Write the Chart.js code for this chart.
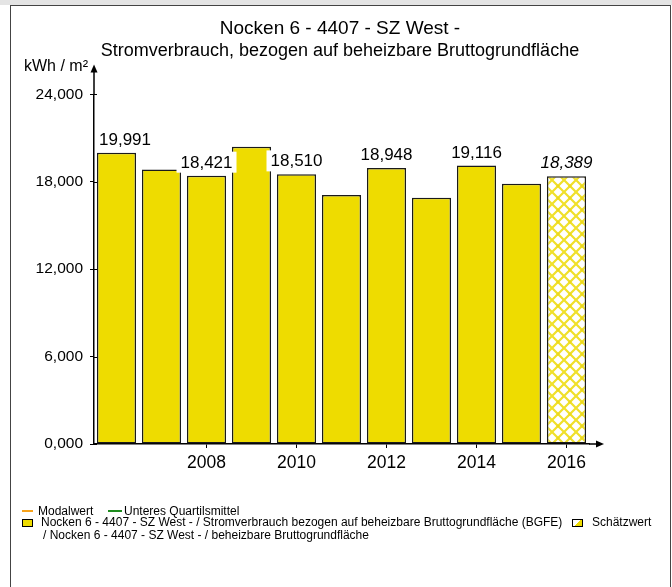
<!DOCTYPE html>
<html>
<head>
<meta charset="utf-8">
<script src="https://cdn.jsdelivr.net/npm/chart.js@4.4.1/dist/chart.umd.min.js"></script>
<style>
  body { margin: 0; background: #fff; font-family: "Liberation Sans", Arial, sans-serif; }
  #wrap { position: relative; width: 672px; height: 587px; overflow: hidden; }
  #topband { position: absolute; left: 0; top: 0; width: 672px; height: 5px; background: #e4e4e4; }
  #frame { position: absolute; left: 10px; top: 5px; width: 659px; height: 600px; border: 1px solid #444; }
  #c { position: absolute; left: 0; top: 0; }
  .lg { position: absolute; white-space: nowrap; font-size: 12px; line-height: 12px; color: #000; }
  .line { position: absolute; height: 2px; }
  .box { position: absolute; width: 9px; height: 6px; border: 1.5px solid #000; }
</style>
</head>
<body>
<div id="wrap">
  <div id="topband"></div>
  <div id="frame"></div>
  <canvas id="c" width="672" height="587"></canvas>

  <div class="line" style="left:22px;top:510px;width:11px;background:#f7a21b"></div>
  <div class="lg" style="left:38px;top:505px">Modalwert</div>
  <div class="line" style="left:108px;top:510px;width:14px;background:#1e8c1e"></div>
  <div class="lg" style="left:124px;top:505px">Unteres Quartilsmittel</div>

  <div class="box" style="left:22px;top:519px;background:#eedc00"></div>
  <div class="lg" style="left:41px;top:516px">Nocken 6 - 4407 - SZ West - / Stromverbrauch bezogen auf beheizbare Bruttogrundfläche (BGFE)</div>
  <div class="box" style="left:572px;top:519px;background:linear-gradient(135deg,#fff 50%,#eedc00 50%)"></div>
  <div class="lg" style="left:592px;top:516px">Schätzwert</div>
  <div class="lg" style="left:43px;top:529px">/ Nocken 6 - 4407 - SZ West - / beheizbare Bruttogrundfläche</div>
</div>
<script>
const years = ['2006', '2007', '2008', '2009', '2010', '2011', '2012', '2013', '2014', '2015', '2016'];
const values = [19.991, 18.85, 18.421, 20.40, 18.510, 17.10, 18.948, 16.90, 19.116, 17.87, 18.389];
const shownYearLabels = ['2008', '2010', '2012', '2014', '2016'];
const valueLabelYears = ['2006', '2008', '2010', '2012', '2014', '2016'];
const estimateYears = ['2016'];
const yMax = 24;
const yStep = 2;
const yLabelStep = 6;

const FONT = '"Liberation Sans", Arial, sans-serif';
const fmt = v => v.toFixed(3).replace('.', ',');

// hatched fill for the estimated year
function hatch() {
  const s = 12;
  const c = document.createElement('canvas');
  c.width = s; c.height = s;
  const g = c.getContext('2d');
  g.fillStyle = '#fff';
  g.fillRect(0, 0, s, s);
  g.strokeStyle = '#f0e02a';
  g.lineWidth = 2.2;
  g.beginPath();
  g.moveTo(-1, -1); g.lineTo(s + 1, s + 1);
  g.moveTo(s + 1, -1); g.lineTo(-1, s + 1);
  g.stroke();
  g.fillStyle = '#ecd81c';
  g.beginPath(); g.arc(s / 2, s / 2, 1.6, 0, Math.PI * 2); g.fill();
  return g.createPattern(c, 'repeat');
}
const hatchFill = hatch();

const decor = {
  id: 'decor',
  afterDatasetsDraw(chart) {
    const ctx = chart.ctx;
    const area = chart.chartArea;
    const meta = chart.getDatasetMeta(0);
    ctx.save();
    years.forEach((y, i) => {
      if (!valueLabelYears.includes(y)) return;
      const bar = meta.data[i];
      const italic = estimateYears.includes(y);
      ctx.font = (italic ? 'italic ' : '') + '17px ' + FONT;
      const text = fmt(values[i]);
      const w = ctx.measureText(text).width;
      let bx = bar.x - w / 2 - 4;
      if (bx < area.left + 1) bx = area.left + 1;
      const base = bar.y - 8;
      ctx.fillStyle = '#fff';
      ctx.fillRect(bx, base - 16, w + 8, 21);
      ctx.fillStyle = '#000';
      ctx.textAlign = 'left';
      ctx.textBaseline = 'alphabetic';
      ctx.fillText(text, bx + 4, base);
    });
    ctx.restore();
  },
  afterDraw(chart) {
    const ctx = chart.ctx;
    const area = chart.chartArea;
    const ys = chart.scales.y;
    const x0 = area.left, y0 = area.bottom;
    ctx.save();
    ctx.strokeStyle = '#000';
    ctx.fillStyle = '#000';
    ctx.lineWidth = 1.5;
    // axis extensions with arrows
    ctx.beginPath();
    ctx.moveTo(x0, area.top); ctx.lineTo(x0, area.top - 25);
    ctx.moveTo(area.right, y0); ctx.lineTo(area.right + 12, y0);
    ctx.stroke();
    ctx.beginPath();
    ctx.moveTo(x0, area.top - 30); ctx.lineTo(x0 - 3.5, area.top - 22); ctx.lineTo(x0 + 3.5, area.top - 22);
    ctx.closePath(); ctx.fill();
    ctx.beginPath();
    ctx.moveTo(area.right + 15, y0); ctx.lineTo(area.right + 7, y0 - 3.5); ctx.lineTo(area.right + 7, y0 + 3.5);
    ctx.closePath(); ctx.fill();
    // tick marks cross the y axis
    ctx.lineWidth = 1;
    ys.ticks.forEach(t => {
      const py = Math.round(ys.getPixelForValue(t.value)) + 0.5;
      ctx.beginPath(); ctx.moveTo(x0, py); ctx.lineTo(x0 + 3, py); ctx.stroke();
    });
    // unit label
    ctx.font = '16px ' + FONT;
    ctx.textAlign = 'right';
    ctx.textBaseline = 'alphabetic';
    ctx.fillText('kWh / m²', x0 - 6, area.top - 23);
    ctx.restore();
  }
};

new Chart(document.getElementById('c'), {
  type: 'bar',
  data: {
    labels: years,
    datasets: [{
      data: values,
      backgroundColor: years.map(y => estimateYears.includes(y) ? hatchFill : '#eedc00'),
      borderColor: '#1a1a1a',
      borderWidth: 1.5,
      borderSkipped: false,
      barPercentage: 0.87,
      categoryPercentage: 1
    }]
  },
  options: {
    responsive: false,
    devicePixelRatio: 1,
    animation: false,
    layout: { padding: { left: 10, right: 2, top: 0, bottom: 113 } },
    plugins: {
      legend: { display: false },
      tooltip: { enabled: false },
      title: {
        display: true,
        text: 'Nocken 6 - 4407 - SZ West -',
        color: '#000',
        font: { family: FONT, size: 19, weight: 'normal' },
        padding: { top: 17, bottom: 0 }
      },
      subtitle: {
        display: true,
        text: 'Stromverbrauch, bezogen auf beheizbare Bruttogrundfläche',
        color: '#000',
        font: { family: FONT, size: 18, weight: 'normal' },
        padding: { top: 0, bottom: 33 }
      }
    },
    scales: {
      x: {
        offset: true,
        grid: { display: true, offset: false, drawOnChartArea: false, drawTicks: true, tickLength: 4, color: '#000' },
        border: { display: true, color: '#000', width: 1.5 },
        ticks: {
          autoSkip: false,
          maxRotation: 0,
          padding: 5,
          color: '#000',
          font: { family: FONT, size: 17.5 },
          callback: (v, i) => shownYearLabels.includes(years[i]) ? years[i] : null
        },
        afterFit: s => { s.height = 30; }
      },
      y: {
        min: 0,
        max: yMax,
        grid: { display: true, drawOnChartArea: false, drawTicks: true, tickLength: 4, color: '#000' },
        border: { display: true, color: '#000', width: 1.5 },
        ticks: {
          stepSize: yStep,
          padding: 7,
          color: '#000',
          font: { family: FONT, size: 15.5 },
          callback: v => v % yLabelStep === 0 ? fmt(v) : null
        },
        afterFit: s => { s.width = 84; }
      },
      // empty right-hand space, keeps the plot narrower than the frame
      yRight: {
        position: 'right',
        min: 0,
        max: yMax,
        grid: { display: false },
        border: { display: false },
        ticks: { display: false },
        afterFit: s => { s.width = 81; }
      }
    }
  },
  plugins: [decor]
});
</script>
</body>
</html>
